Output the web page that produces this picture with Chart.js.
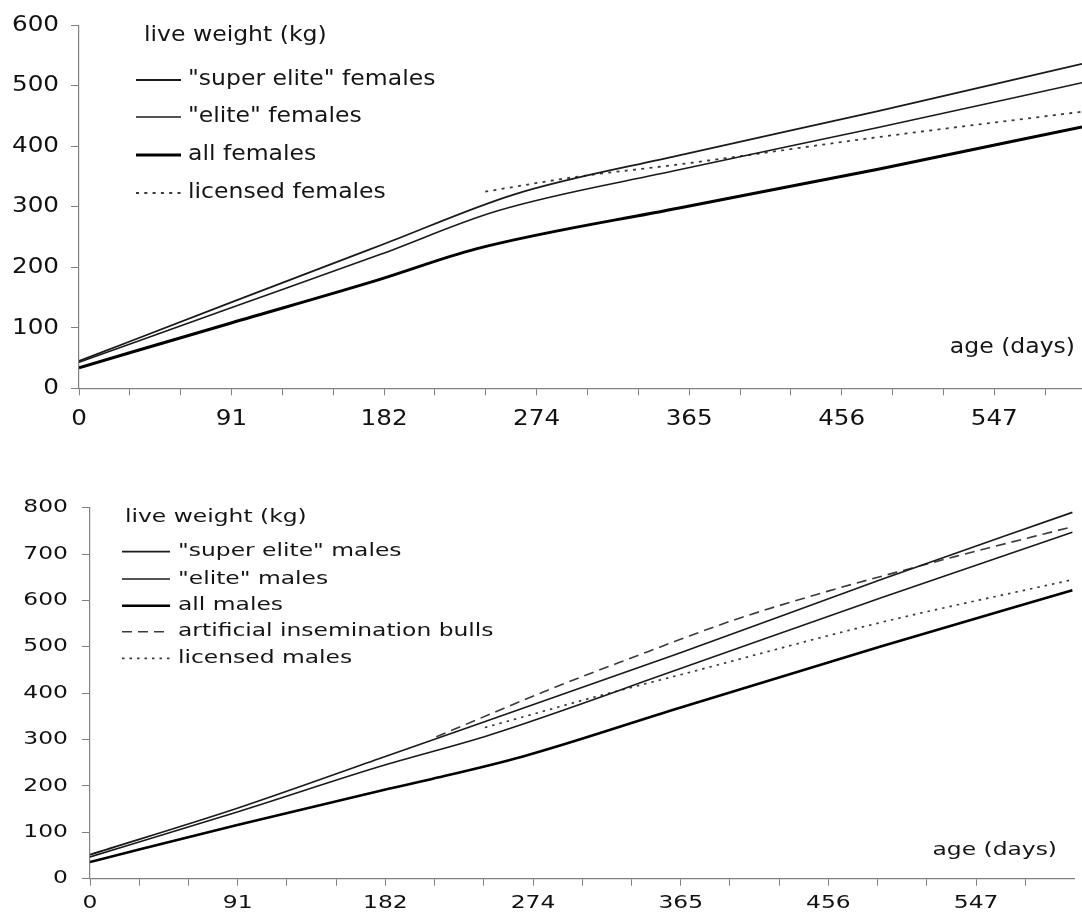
<!DOCTYPE html>
<html><head><meta charset="utf-8">
<script src="https://cdn.jsdelivr.net/npm/chart.js@4/dist/chart.umd.min.js"></script>
<style>
html,body{margin:0;padding:0;background:#fff;}
#wrap{position:relative;width:1082px;height:912px;overflow:hidden;background:#fff;}
canvas{position:absolute;left:0;}
#cF{top:0;} #cM{top:445px;}
</style></head><body>
<div id="wrap">
<canvas id="cF" width="1082" height="445"></canvas>
<canvas id="cM" width="1082" height="467"></canvas>
</div>
<script>
// ---------- data ----------
const xTickLabels = ['0', '91', '182', '274', '365', '456', '547'];
const yTitleText = 'live weight (kg)';
const xTitleText = 'age (days)';

// females (age in days, live weight in kg)
const femaleLabels = ['"super elite" females', '"elite" females', 'all females', 'licensed females'];
const superEliteF_days = [0, 91, 182, 261, 359, 478, 600];
const superEliteF_kg   = [45, 142, 238, 321, 385, 458, 536];
const eliteF_days      = [0, 91, 180, 250, 359, 478, 600];
const eliteF_kg        = [43, 133, 221, 293, 361, 431, 505];
const allF_days        = [0, 91, 180, 237, 359, 478, 600];
const allF_kg          = [34, 108, 180, 230, 298, 362, 432];
const licensedF_days   = [243, 299, 359, 478, 600];
const licensedF_kg     = [325, 350, 370, 415, 457];

// males
const maleLabels = ['"super elite" males', '"elite" males', 'all males', 'artificial insemination bulls', 'licensed males'];
const superEliteM_days = [0, 91, 182, 364, 488, 607];
const superEliteM_kg   = [52, 152, 263, 486, 644, 790];
const eliteM_days      = [0, 91, 179, 247, 364, 488, 607];
const eliteM_kg        = [47, 144, 242, 310, 452, 605, 747];
const allM_days        = [0, 91, 182, 210, 267, 364, 488, 607];
const allM_kg          = [36, 116, 192, 214, 263, 368, 500, 622];
const aiBulls_days     = [214, 286, 342, 364, 398, 455, 507, 535, 607];
const aiBulls_kg       = [306, 411, 486, 515, 558, 619, 669, 695, 759];
const licensedM_days   = [244, 278, 311, 364, 488, 606];
const licensedM_kg     = [326, 359, 391, 439, 552, 644];

// ---------- helpers ----------
const pts = (d, v) => d.map((x, i) => ({x: x, y: v[i]}));
const FONT = '"DejaVu Sans", "Liberation Sans", Arial, sans-serif';

function stretchText(canvas, factor) {
  const ctx = canvas.getContext('2d');
  const orig = ctx.fillText;
  ctx.fillText = function (text, x, y, maxWidth) {
    this.save();
    this.translate(x, y);
    this.scale(factor, 1);
    if (maxWidth === undefined || maxWidth === null) orig.call(this, text, 0, 0);
    else orig.call(this, text, 0, 0, maxWidth / factor);
    this.restore();
  };
}

const inlayPlugin = {
  id: 'inlay',
  afterDraw(chart, args, o) {
    const ctx = chart.ctx;
    const ys = chart.options.scales.y.title.text;
    const xs = chart.options.scales.x.title.text;
    ctx.save();
    ctx.font = o.fontSize + 'px ' + FONT;
    ctx.fillStyle = '#151515';
    ctx.textBaseline = 'middle';
    ctx.textAlign = 'left';
    ctx.fillText(ys, o.titleX, o.titleY);
    chart.data.datasets.forEach((ds, i) => {
      const y = o.rowY[i];
      ctx.save();
      ctx.strokeStyle = ds.borderColor;
      ctx.lineWidth = ds.borderWidth;
      ctx.setLineDash(ds.borderDash || []);
      ctx.beginPath();
      ctx.moveTo(o.lineX0, y);
      ctx.lineTo(o.lineX1, y);
      ctx.stroke();
      ctx.restore();
      ctx.fillText(ds.label, o.textX, y);
    });
    ctx.textAlign = 'right';
    ctx.fillText(xs, o.axisX, o.axisY);
    ctx.restore();
  }
};

function monthTicks(max) {
  const t = [];
  for (let i = 0; i * 365 / 12 <= max; i++) t.push({value: i * 365 / 12});
  return t;
}

function makeChart(id, cfg) {
  const canvas = document.getElementById(id);
  stretchText(canvas, cfg.stretch);
  const axisColor = '#808080';
  return new Chart(canvas, {
    type: 'line',
    data: {datasets: cfg.datasets},
    plugins: [inlayPlugin],
    options: {
      responsive: false,
      animation: false,
      devicePixelRatio: 1,
      layout: {padding: cfg.padding},
      elements: {point: {radius: 0}, line: {cubicInterpolationMode: 'monotone'}},
      plugins: {legend: {display: false}, tooltip: {enabled: false}, inlay: cfg.inlay},
      scales: {
        x: {
          type: 'linear', min: 0, max: cfg.xMax,
          title: {display: false, text: xTitleText},
          afterBuildTicks: s => { s.ticks = monthTicks(cfg.xMax); },
          afterFit: s => { s.height = cfg.xAxisHeight; },
          ticks: {
            autoSkip: false, maxRotation: 0, minRotation: 0,
            padding: cfg.xTickPad, color: '#111',
            font: {family: FONT, size: cfg.tickSize},
            callback: (v, i) => (i % 3 === 0 && xTickLabels[i / 3] !== undefined) ? xTickLabels[i / 3] : ''
          },
          grid: {drawOnChartArea: false, drawTicks: true, tickLength: 7, color: axisColor, lineWidth: 1},
          border: {display: true, color: axisColor, width: 1.2}
        },
        y: {
          min: 0, max: cfg.yMax,
          title: {display: false, text: yTitleText},
          afterFit: s => { s.width = cfg.yAxisWidth; },
          ticks: {stepSize: 100, padding: cfg.yTickPad, color: '#111', font: {family: FONT, size: cfg.tickSize}},
          grid: {drawOnChartArea: false, drawTicks: true, tickLength: 8, color: axisColor, lineWidth: 1},
          border: {display: true, color: axisColor, width: 1.2}
        }
      }
    }
  });
}

const solid = '#1a1a1a';
const soft = '#3a3a3a';

makeChart('cF', {
  stretch: 1.12, tickSize: 22, xMax: 600, yMax: 600,
  padding: {left: 0, right: 0, top: 23, bottom: 0},
  yAxisWidth: 79, xAxisHeight: 56.7, xTickPad: 11, yTickPad: 12,
  inlay: {fontSize: 21, titleX: 144, titleY: 36, lineX0: 136, lineX1: 181, textX: 188,
          rowY: [80, 117, 155, 193], axisX: 1075, axisY: 348},
  datasets: [
    {label: femaleLabels[0], data: pts(superEliteF_days, superEliteF_kg), borderColor: solid, borderWidth: 1.8},
    {label: femaleLabels[1], data: pts(eliteF_days, eliteF_kg), borderColor: solid, borderWidth: 1.6},
    {label: femaleLabels[2], data: pts(allF_days, allF_kg), borderColor: '#000', borderWidth: 3},
    {label: femaleLabels[3], data: pts(licensedF_days, licensedF_kg), borderColor: soft, borderWidth: 1.8, borderDash: [3, 5.3]}
  ]
});

makeChart('cM', {
  stretch: 1.3, tickSize: 18, xMax: 608, yMax: 800,
  padding: {left: 0, right: 8, top: 62.7, bottom: 0},
  yAxisWidth: 90, xAxisHeight: 33.3, xTickPad: 7, yTickPad: 14,
  inlay: {fontSize: 18, titleX: 125, titleY: 72.3, lineX0: 122, lineX1: 170, textX: 178,
          rowY: [106.7, 134, 160.7, 186.7, 213.3], axisX: 1057, axisY: 405},
  datasets: [
    {label: maleLabels[0], data: pts(superEliteM_days, superEliteM_kg), borderColor: solid, borderWidth: 1.7},
    {label: maleLabels[1], data: pts(eliteM_days, eliteM_kg), borderColor: solid, borderWidth: 1.6},
    {label: maleLabels[2], data: pts(allM_days, allM_kg), borderColor: '#000', borderWidth: 2.6},
    {label: maleLabels[3], data: pts(aiBulls_days, aiBulls_kg), borderColor: soft, borderWidth: 1.6, borderDash: [10, 6]},
    {label: maleLabels[4], data: pts(licensedM_days, licensedM_kg), borderColor: soft, borderWidth: 1.7, borderDash: [2.5, 5]}
  ]
});
</script>
</body></html>
